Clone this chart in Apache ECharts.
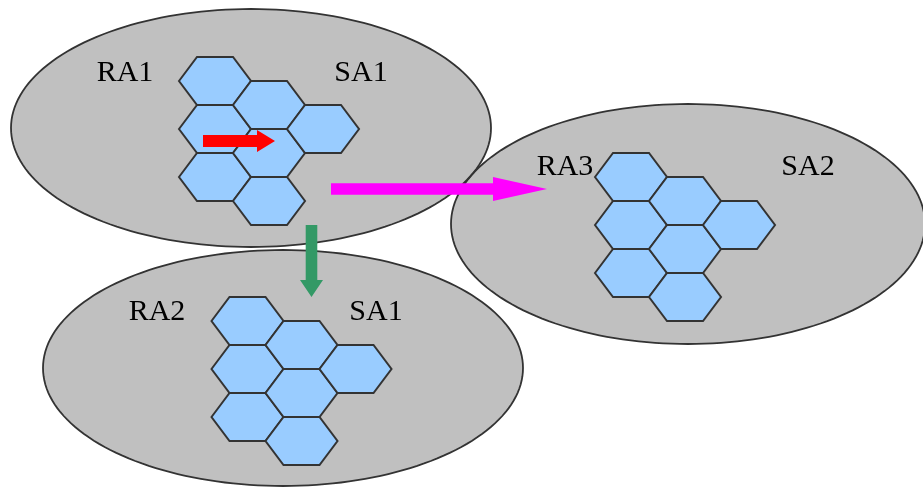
<!DOCTYPE html>
<html>
<head>
<meta charset="utf-8">
<script src="https://cdn.jsdelivr.net/npm/echarts@6/dist/echarts.min.js"></script>
<style>html,body{margin:0;padding:0;background:#fff}#c{width:923px;height:488px}</style>
</head>
<body>
<div id="c"></div>
<script>
// Ellipses (regions): centre and radii in diagram units
var ellipseCx = [251, 283, 688];
var ellipseCy = [128, 368, 224];
var ellipseRx = [240, 240, 237];
var ellipseRy = [119, 118, 120];

// Hexagon clusters: first-cell centre of each cluster
var clusterX = [215, 247.5, 631];
var clusterY = [81, 321, 177];
// cell offsets inside a cluster (column, half-row)
var cellCol = [0, 0, 0, 1, 1, 1, 2];
var cellRow = [0, 2, 4, 1, 3, 5, 2];

// Labels
var labelText = ['RA1', 'SA1', 'RA2', 'SA1', 'RA3', 'SA2'];
var labelX = [125, 361, 157, 376, 565, 808];
var labelY = [73, 73, 312, 312, 167, 167];

// Arrows: start and tip
var arrowX0 = [203, 331, 311.5];
var arrowY0 = [141, 189, 225];
var arrowX1 = [275, 547, 311.5];
var arrowY1 = [141, 189, 297];
var arrowColor = ['#ff0000', '#ff00ff', '#339966'];
var arrowHeadLen = [18, 54, 17];
var arrowHeadHalf = [11, 12, 11.5];
var arrowShaftHalf = [6, 5.8, 5.8];

var HEX_R = 36, HEX_H = 24, COL_STEP = 54, ROW_STEP = 24;

function ellipsePts(api, i) {
  var pts = [];
  for (var k = 0; k < 180; k++) {
    var a = k / 180 * Math.PI * 2;
    pts.push(api.coord([ellipseCx[i] + ellipseRx[i] * Math.cos(a), ellipseCy[i] + ellipseRy[i] * Math.sin(a)]));
  }
  return pts;
}

var ellipseData = ellipseCx.map(function (v, i) { return [ellipseCx[i], ellipseCy[i]]; });
var hexData = [];
for (var g = 0; g < clusterX.length; g++) {
  for (var c = 0; c < cellCol.length; c++) {
    hexData.push([clusterX[g] + cellCol[c] * COL_STEP, clusterY[g] + cellRow[c] * ROW_STEP]);
  }
}
var labelData = labelText.map(function (t, i) { return [labelX[i], labelY[i], t]; });
var arrowData = arrowX0.map(function (v, i) { return [arrowX0[i], arrowY0[i], arrowX1[i], arrowY1[i], i]; });

var chart = echarts.init(document.getElementById('c'), null, {renderer: 'canvas'});
chart.setOption({
  animation: false,
  grid: {left: 0, right: 0, top: 0, bottom: 0},
  xAxis: {type: 'value', min: 0, max: 923, show: false},
  yAxis: {type: 'value', min: 0, max: 488, inverse: true, show: false},
  series: [
    {
      type: 'custom', data: ellipseData, clip: false, silent: true,
      renderItem: function (params, api) {
        return {type: 'polygon', shape: {points: ellipsePts(api, params.dataIndex)}, style: {fill: '#c0c0c0', stroke: null}};
      }
    },
    {
      type: 'custom', data: ellipseData, clip: false, silent: true,
      renderItem: function (params, api) {
        return {type: 'polygon', shape: {points: ellipsePts(api, params.dataIndex)}, style: {fill: null, stroke: '#333333', lineWidth: 1.8}};
      }
    },
    {
      type: 'custom', data: hexData, clip: false, silent: true,
      renderItem: function (params, api) {
        var x = api.value(0), y = api.value(1);
        var pts = [
          api.coord([x - HEX_R, y]),
          api.coord([x - HEX_R / 2, y - HEX_H]),
          api.coord([x + HEX_R / 2, y - HEX_H]),
          api.coord([x + HEX_R, y]),
          api.coord([x + HEX_R / 2, y + HEX_H]),
          api.coord([x - HEX_R / 2, y + HEX_H])
        ];
        return {type: 'polygon', shape: {points: pts}, style: {fill: '#99ccff', stroke: '#333333', lineWidth: 2, lineJoin: 'miter'}};
      }
    },
    {
      type: 'custom', data: arrowData, clip: false, silent: true,
      renderItem: function (params, api) {
        var i = params.dataIndex;
        var p0 = api.coord([api.value(0), api.value(1)]);
        var p1 = api.coord([api.value(2), api.value(3)]);
        var dx = p1[0] - p0[0], dy = p1[1] - p0[1];
        var L = Math.sqrt(dx * dx + dy * dy);
        var ux = dx / L, uy = dy / L, nx = -uy, ny = ux;
        var hl = arrowHeadLen[i], hh = arrowHeadHalf[i], sh = arrowShaftHalf[i];
        var bx = p1[0] - ux * hl, by = p1[1] - uy * hl;
        var pts = [
          [p0[0] + nx * sh, p0[1] + ny * sh],
          [bx + nx * sh, by + ny * sh],
          [bx + nx * hh, by + ny * hh],
          [p1[0], p1[1]],
          [bx - nx * hh, by - ny * hh],
          [bx - nx * sh, by - ny * sh],
          [p0[0] - nx * sh, p0[1] - ny * sh]
        ];
        return {type: 'polygon', shape: {points: pts}, style: {fill: arrowColor[i], stroke: null}};
      }
    },
    {
      type: 'custom', data: labelData, clip: false, silent: true,
      renderItem: function (params, api) {
        var p = api.coord([api.value(0), api.value(1)]);
        return {type: 'text', x: p[0], y: p[1], style: {text: labelText[params.dataIndex], fill: '#000', font: '30px "Liberation Serif", "DejaVu Serif", serif', textAlign: 'center', textVerticalAlign: 'middle'}};
      }
    }
  ]
});
</script>
</body>
</html>
